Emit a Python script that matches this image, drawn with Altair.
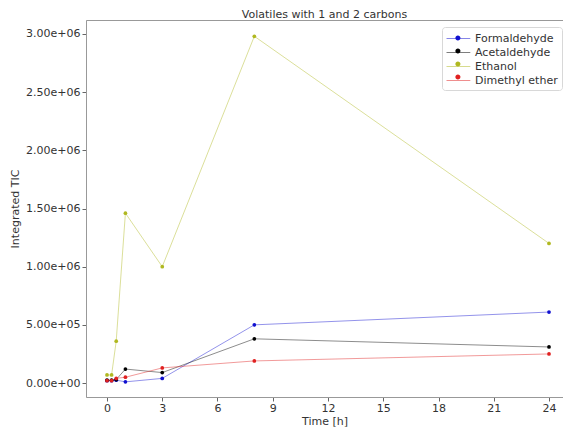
import altair as alt
import pandas as pd

times = [0, 0.25, 0.5, 1, 3, 8, 24]
formaldehyde = [2.0e4, 2.0e4, 2.5e4, 1.0e4, 4.0e4, 5.0e5, 6.1e5]
acetaldehyde = [2.5e4, 2.5e4, 3.0e4, 1.2e5, 9.0e4, 3.8e5, 3.1e5]
ethanol = [7.0e4, 7.0e4, 3.6e5, 1.46e6, 1.0e6, 2.98e6, 1.2e6]
dimethyl_ether = [2.0e4, 2.0e4, 4.0e4, 5.0e4, 1.3e5, 1.9e5, 2.5e5]

series_names = ["Formaldehyde", "Acetaldehyde", "Ethanol", "Dimethyl ether"]
series_values = [formaldehyde, acetaldehyde, ethanol, dimethyl_ether]
series_colors = ["#1010d0", "#000000", "#b0b820", "#e02020"]
x_ticks = [0, 3, 6, 9, 12, 15, 18, 21, 24]
y_ticks = [0, 5e5, 1e6, 1.5e6, 2e6, 2.5e6, 3e6]

rows = []
for name, vals in zip(series_names, series_values):
    for t, v in zip(times, vals):
        rows.append({"Time": t, "Value": v, "Series": name})
df = pd.DataFrame(rows)

font = "DejaVu Sans"
LX, LY = 356, 7
FRAME = "#999999"

common_legend = dict(
    title=None,
    orient="none",
    legendX=LX,
    legendY=LY,
    padding=4,
    labelFont=font,
    labelFontSize=11,
    symbolSize=196,
    rowPadding=1,
    labelOffset=14,
    labelLimit=200,
)

line_color = alt.Color(
    "Series:N",
    scale=alt.Scale(domain=series_names, range=series_colors),
    sort=series_names,
    legend=alt.Legend(
        fillColor="white",
        strokeColor="#d8d8d8",
        cornerRadius=3,
        labelColor="#333333",
        symbolType="M-1,0 L2.4,0",
        symbolStrokeWidth=1,
        symbolOpacity=0.5,
        **common_legend,
    ),
)
point_color = alt.Color(
    "Series2:N",
    scale=alt.Scale(domain=series_names, range=series_colors),
    sort=series_names,
    legend=alt.Legend(
        labelExpr="''",
        symbolType="M0.34,0 A0.36,0.36 0 1,1 1.06,0 A0.36,0.36 0 1,1 0.34,0 Z",
        symbolStrokeWidth=0,
        symbolOpacity=1,
        **common_legend,
    ),
)

axis_style = dict(grid=False, tickSize=4, labelFontSize=11, titleFontSize=11,
                  labelFont=font, titleFont=font, titleFontWeight="normal",
                  labelColor="#333333", titleColor="#333333",
                  domain=True, domainColor=FRAME, tickColor="#666666")

x_scale = alt.Scale(domain=[-1.14, 24.76], nice=False, zero=False)
y_scale = alt.Scale(domain=[-0.12e6, 3.12e6], nice=False, zero=False)

x = alt.X("Time:Q", title="Time [h]", scale=x_scale,
          axis=alt.Axis(values=x_ticks, titlePadding=2, labelPadding=1, **axis_style))
x_top = alt.X("Time:Q", title=None, scale=x_scale,
              axis=alt.Axis(orient="top", labels=False, ticks=False, grid=False,
                            domain=True, domainColor=FRAME))
y = alt.Y("Value:Q", title="Integrated TIC", scale=y_scale,
          axis=alt.Axis(values=y_ticks, titlePadding=5,
                        labelExpr="datum.value == 0 ? '0.00e+00' : (datum.value < 1e6 ? format(datum.value/1e5, '.2f') + 'e+05' : format(datum.value/1e6, '.2f') + 'e+06')",
                        **axis_style))

base = alt.Chart(df).transform_calculate(Series2="datum.Series")
lines = base.mark_line(strokeWidth=1, opacity=0.45).encode(x=x, y=y, color=line_color)
points = base.mark_circle(size=14, opacity=1).encode(x=x_top, y=y, color=point_color)

chart = (
    alt.layer(lines, points)
    .resolve_scale(color="independent")
    .resolve_axis(x="independent")
    .properties(
        width=477,
        height=377,
        title=alt.TitleParams("Volatiles with 1 and 2 carbons", font=font, fontSize=11,
                              fontWeight="normal", color="#333333", offset=0),
        autosize=alt.AutoSizeParams(type="none"),
        padding={"left": 78, "top": 12, "right": 0, "bottom": 34},
    )
    .configure_view(stroke=None)
    .configure(background="white")
)

chart.save("out.html", embed_options={"renderer": "svg", "actions": False})
